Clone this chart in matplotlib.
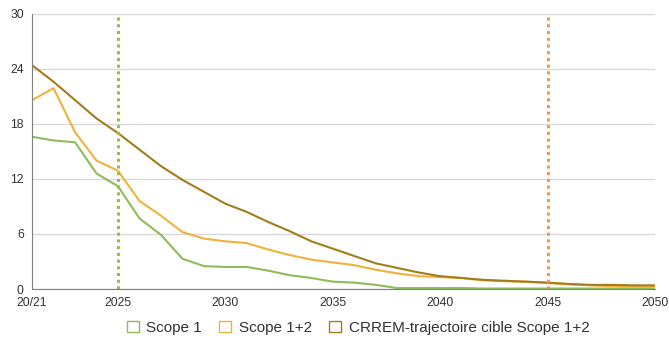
import matplotlib.pyplot as plt
from matplotlib.patches import Patch
import numpy as np

plt.rcParams['font.family'] = ['Liberation Sans', 'DejaVu Sans']

years = ['20/21'] + [str(y) for y in range(2022, 2051)]

scope1 = [16.6, 16.2, 16.0, 12.6, 11.2, 7.7, 5.9, 3.3, 2.5, 2.4,
          2.4, 2.0, 1.5, 1.2, 0.8, 0.7, 0.45, 0.1, 0.1, 0.1,
          0.1, 0.05, 0.05, 0.05, 0.05, 0.05, 0.05, 0.05, 0.05, 0.05]
scope12 = [20.6, 21.9, 17.1, 14.0, 12.9, 9.6, 8.0, 6.2, 5.5, 5.2,
           5.0, 4.3, 3.7, 3.2, 2.9, 2.6, 2.1, 1.7, 1.4, 1.3,
           1.2, 0.95, 0.85, 0.8, 0.65, 0.5, 0.4, 0.3, 0.25, 0.25]
crrem = [24.4, 22.6, 20.6, 18.6, 17.0, 15.2, 13.4, 11.9, 10.6, 9.3,
         8.4, 7.3, 6.3, 5.2, 4.4, 3.6, 2.8, 2.3, 1.8, 1.4,
         1.2, 1.0, 0.9, 0.8, 0.7, 0.55, 0.45, 0.45, 0.4, 0.4]

label_years = ['20/21', '2025', '2030', '2035', '2040', '2045', '2050']
markers = ['2025', '2045']

c_green = '#8fbc5a'
c_orange = '#f0b23a'
c_brown = '#a57c1b'

fig = plt.figure(figsize=(6.69, 3.4), dpi=100)
ax = fig.add_axes([0.048, 0.15, 0.931, 0.809])

x = np.arange(len(years))
ax.plot(x, scope1, color=c_green, lw=1.5)
ax.plot(x, scope12, color=c_orange, lw=1.5)
ax.plot(x, crrem, color=c_brown, lw=1.5)

ax.axvline(years.index(markers[0]), color='#92c040', lw=2.2, ls=(0, (1, 1.2)))
ax.axvline(years.index(markers[1]), color='#f79646', lw=2.2, ls=(0, (1, 1.2)))

ax.set_xlim(0, len(years) - 1)
ax.set_ylim(0, 30)
ax.set_yticks([0, 6, 12, 18, 24, 30])
ax.set_xticks([years.index(l) for l in label_years])
ax.set_xticklabels(label_years)
ax.tick_params(axis='both', labelsize=8.8, length=0, colors='#333333', pad=6)
ax.grid(axis='y', color='#d9d9d9', lw=1)
ax.set_axisbelow(True)
for s in ['top', 'right']:
    ax.spines[s].set_visible(False)
ax.spines['left'].set_color('#808080')
ax.spines['bottom'].set_color('#808080')

handles = [Patch(facecolor='white', edgecolor=c, lw=1) for c in (c_green, c_orange, c_brown)]
fig.legend(handles, ['Scope 1', 'Scope 1+2', 'CRREM-trajectoire cible Scope 1+2'],
           loc='lower center', bbox_to_anchor=(0.535, -0.025), ncol=3, frameon=False,
           fontsize=11, handlelength=0.8, handleheight=0.8, columnspacing=1.1,
           handletextpad=0.5, labelcolor='#333333')

fig.savefig('out.png', dpi=100)
